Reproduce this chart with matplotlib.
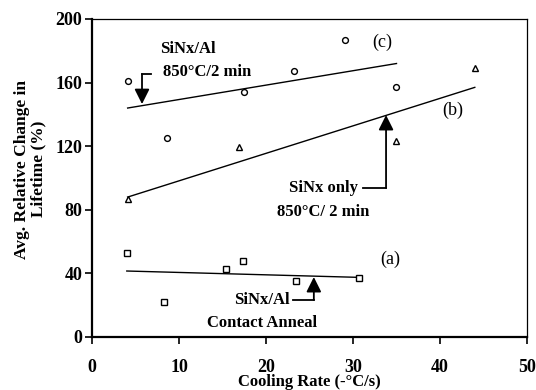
import matplotlib
matplotlib.use("Agg")
import matplotlib.pyplot as plt

plt.rcParams["font.family"] = ["Liberation Serif", "DejaVu Serif"]

# (c) SiNx/Al 850C/2 min - circles
c_x = [4.1, 8.6, 17.5, 23.2, 29.1, 34.9]
c_y = [161, 125, 154, 167, 187, 157]
# (b) SiNx only 850C/2 min - triangles
b_x = [4.1, 16.9, 35.0, 44.0]
b_y = [87, 119.5, 123, 169]
# (a) SiNx/Al contact anneal - squares
a_x = [4.0, 8.3, 15.4, 17.4, 23.5, 30.7]
a_y = [53, 22, 43, 48, 35, 37]

# trend lines (end points)
fit_c_x, fit_c_y = [4.1, 35.0], [144, 172]
fit_b_x, fit_b_y = [4.1, 44.0], [88, 157]
fit_a_x, fit_a_y = [4.0, 30.7], [41.5, 37.5]

x_ticks = [0, 10, 20, 30, 40, 50]
y_ticks = [0, 40, 80, 120, 160, 200]

fig = plt.figure(figsize=(5.36, 3.9), dpi=100)
ax = fig.add_axes([0.1716, 0.1359, 0.8116, 0.8154])

ax.plot(fit_c_x, fit_c_y, color="black", lw=1.0)
ax.plot(fit_b_x, fit_b_y, color="black", lw=1.0)
ax.plot(fit_a_x, fit_a_y, color="black", lw=1.0)

ax.plot(c_x, c_y, "o", ms=4.2, mfc="white", mec="black", mew=1.0)
ax.plot(b_x, b_y, "^", ms=4.6, mfc="white", mec="black", mew=1.0)
ax.plot(a_x, a_y, "s", ms=4.4, mfc="white", mec="black", mew=1.0)

bold = dict(fontsize=12, fontweight="bold", ha="center", va="center")
head = dict(arrowstyle="-|>,head_length=0.9,head_width=0.45", color="black", lw=1.3,
            shrinkA=0, shrinkB=0)


def elbow(start, corner, tip):
    ax.plot([start[0], corner[0]], [start[1], corner[1]], color="black", lw=1.3)
    ax.annotate("", xy=tip, xytext=corner, arrowprops=head)


# (c) label
ax.text(11.0, 181.4, "SiNx/Al", **bold)
ax.text(13.2, 166.5, "850°C/2 min", **bold)
elbow((6.8, 165.4), (5.75, 165.4), (5.75, 146.5))

# (b) label
ax.text(26.6, 93.7, "SiNx only", **bold)
ax.text(26.6, 78.6, "850°C/ 2 min", **bold)
elbow((31.1, 93.7), (33.8, 93.7), (33.8, 139.6))

# (a) label
ax.text(19.5, 23.3, "SiNx/Al", **bold)
ax.text(19.5, 8.8, "Contact Anneal", **bold)
elbow((23.1, 23.3), (25.5, 23.3), (25.5, 37.7))

ax.text(33.4, 185, "(c)", fontsize=13, ha="center", va="center")
ax.text(41.5, 142.8, "(b)", fontsize=13, ha="center", va="center")
ax.text(34.3, 49, "(a)", fontsize=13, ha="center", va="center")

ax.set_xlim(0, 50)
ax.set_ylim(0, 200)
ax.set_xticks(x_ticks)
ax.set_yticks(y_ticks)
ax.tick_params(axis="x", direction="out", length=5, width=1.2, pad=11,
               labelsize=13, top=False)
ax.tick_params(axis="y", direction="out", length=5, width=1.2, pad=2,
               labelsize=13, right=False)
for lab in ax.get_xticklabels() + ax.get_yticklabels():
    lab.set_fontweight("bold")

ax.spines["left"].set_linewidth(1.6)
ax.spines["bottom"].set_linewidth(1.6)
ax.spines["top"].set_linewidth(0.9)
ax.spines["right"].set_linewidth(0.9)

ax.set_xlabel("Cooling Rate (-°C/s)", fontsize=12, fontweight="bold")
ax.xaxis.set_label_coords(0.5, -0.116)
ax.set_ylabel("Avg. Relative Change in\nLifetime (%)", fontsize=12.5,
              fontweight="bold", linespacing=1.03)
ax.yaxis.set_label_coords(-0.105, 0.528)

fig.savefig("out.png", dpi=100)
